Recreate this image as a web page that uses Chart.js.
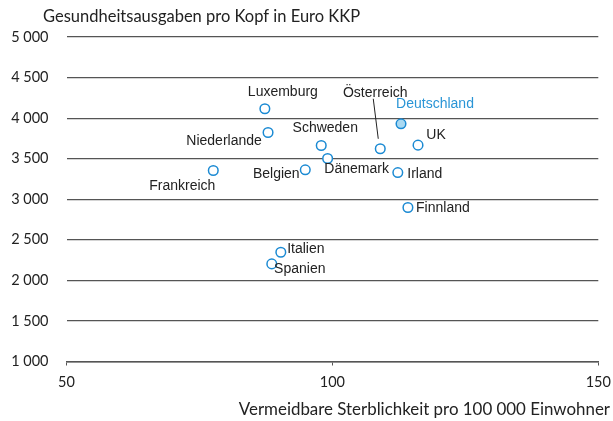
<!DOCTYPE html>
<html>
<head>
<meta charset="utf-8">
<script src="https://cdn.jsdelivr.net/npm/chart.js@4"></script>
<style>
  body { margin: 0; background: #fff; }
  #wrap { width: 613px; height: 421px; position: relative; }
</style>
</head>
<body>
<div id="wrap"><canvas id="chart"></canvas></div>
<script>
// Laender, x = vermeidbare Sterblichkeit, y = Gesundheitsausgaben
const countries = ['Luxemburg', 'Niederlande', 'Schweden', 'Dänemark', 'Frankreich', 'Belgien',
  'Österreich', 'Deutschland', 'UK', 'Irland', 'Finnland', 'Italien', 'Spanien'];
const mortality = [87.3, 87.9, 97.9, 99.1, 77.6, 94.9, 109.0, 112.9, 116.1, 112.3, 114.2, 90.3, 88.6];
const spending = [4115, 3823, 3663, 3502, 3354, 3363, 3622, 3930, 3667, 3329, 2898, 2347, 2203];
const yTicks = [1000, 1500, 2000, 2500, 3000, 3500, 4000, 4500, 5000];
const xTicks = [50, 100, 150];

const blue = '#1b8ad3';
const highlight = 'Deutschland';

// label offsets from the point (px), just layout
const labelPos = {
  'Luxemburg': [18, -17], 'Niederlande': [-44, 9], 'Schweden': [4, -17], 'Dänemark': [29, 11],
  'Frankreich': [-31, 16], 'Belgien': [-29, 4], 'Österreich': [-5, -56], 'Deutschland': [34, -20],
  'UK': [18, -10], 'Irland': [27, 2], 'Finnland': [35, 1], 'Italien': [25, -3], 'Spanien': [28, 5]
};

const points = countries.map((c, i) => ({ x: mortality[i], y: spending[i] }));

const fmt = v => String(v).replace(/\B(?=(\d{3})+(?!\d))/g, ' ');

const labelPlugin = {
  id: 'labels',
  afterDatasetsDraw(chart) {
    const ctx = chart.ctx;
    const meta = chart.getDatasetMeta(0);
    ctx.save();
    ctx.font = '14px "Liberation Sans", Arial, sans-serif';
    ctx.textAlign = 'center';
    ctx.textBaseline = 'middle';
    meta.data.forEach((pt, i) => {
      const name = countries[i];
      const off = labelPos[name];
      ctx.fillStyle = name === highlight ? '#2a95d6' : '#222';
      ctx.fillText(name, pt.x + off[0], pt.y + off[1]);
      if (name === 'Österreich') {
        ctx.strokeStyle = '#222';
        ctx.lineWidth = 1;
        ctx.beginPath();
        ctx.moveTo(pt.x - 7, pt.y - 50);
        ctx.lineTo(pt.x - 2, pt.y - 10);
        ctx.stroke();
      }
    });
    // titles
    ctx.fillStyle = '#222';
    ctx.font = '16.5px Lato, sans-serif';
    ctx.textAlign = 'left';
    ctx.fillText('Gesundheitsausgaben pro Kopf in Euro KKP', 43, 17);
    ctx.font = '16.9px Lato, sans-serif';
    ctx.textAlign = 'right';
    ctx.fillText('Vermeidbare Sterblichkeit pro 100 000 Einwohner', 610, 410);
    ctx.restore();
  }
};

new Chart(document.getElementById('chart'), {
  type: 'scatter',
  data: {
    datasets: [{
      data: points,
      pointRadius: 4.8,
      pointHoverRadius: 4.8,
      borderWidth: 1.5,
      borderColor: blue,
      backgroundColor: countries.map(c => c === highlight ? '#a9d9f2' : '#fff')
    }]
  },
  options: {
    responsive: true,
    maintainAspectRatio: false,
    animation: false,
    layout: { padding: { top: 37, right: 14.7, left: 0, bottom: 0 } },
    plugins: { legend: { display: false }, tooltip: { enabled: false } },
    scales: {
      x: {
        type: 'linear',
        min: 50, max: 150,
        afterBuildTicks: s => { s.ticks = xTicks.map(v => ({ value: v })); },
        afterFit: s => { s.height = 59.5; s.paddingRight = 0; s.paddingLeft = 0; },
        grid: { display: true, drawOnChartArea: false, drawTicks: true, tickLength: 4, color: '#555' },
        border: { display: true, color: '#555', width: 1.5 },
        ticks: { color: '#222', font: { family: 'Lato', size: 14.5 }, padding: 8 }
      },
      y: {
        min: 1000, max: 5000,
        afterBuildTicks: s => { s.ticks = yTicks.map(v => ({ value: v })); },
        afterFit: s => { s.width = 66.5; },
        grid: { color: '#555', lineWidth: 1.2, drawTicks: false },
        border: { display: false },
        ticks: { color: '#222', font: { family: 'Lato', size: 14.5 }, padding: 18, callback: v => fmt(v) }
      }
    }
  },
  plugins: [labelPlugin]
});
</script>
</body>
</html>
